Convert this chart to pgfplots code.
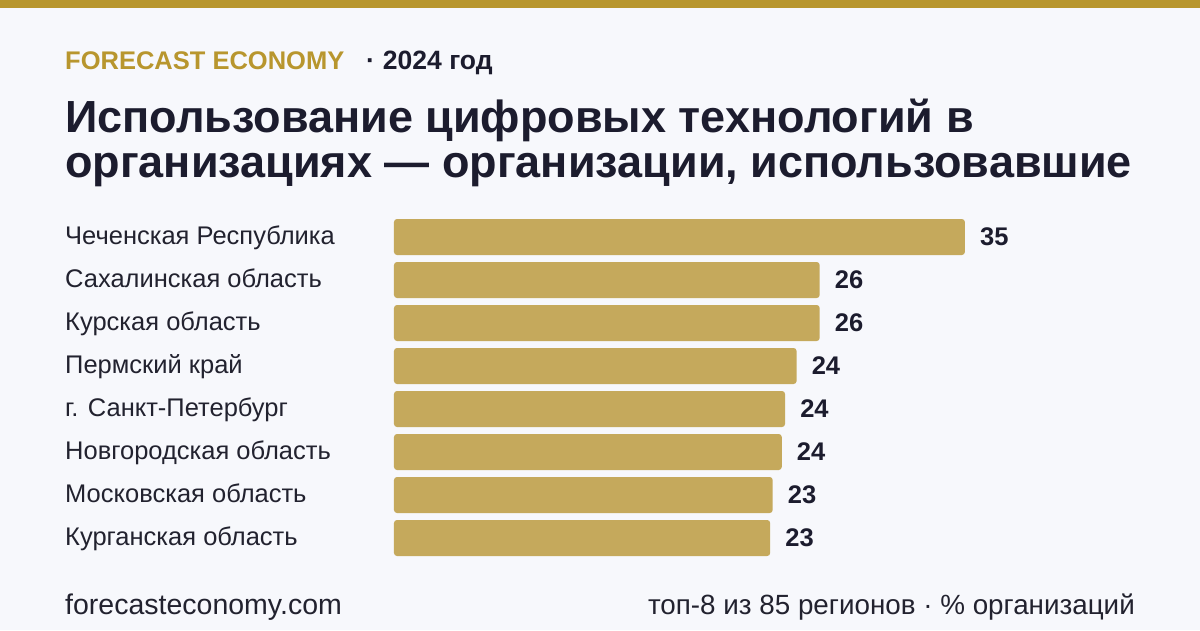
\documentclass[border=0pt]{standalone}
\usepackage{fontspec}
\setmainfont{Liberation Sans}
\usepackage{pgfplots}
\pgfplotsset{compat=1.18}
\usepackage{pgfplotstable}
\definecolor{bg}{HTML}{F7F8FC}
\definecolor{gold}{HTML}{B8962E}
\definecolor{barc}{HTML}{C5A95C}
\definecolor{ink}{HTML}{1C1C2E}
\definecolor{lab}{HTML}{22222F}

\pgfplotstableread{
y val lab
0 34.6 35
1 25.8 26
2 25.8 26
3 24.4 24
4 23.7 24
5 23.5 24
6 22.95 23
7 22.8 23
}\data

\begin{document}
\begin{tikzpicture}
\fill[bg] (0pt,0pt) rectangle (1200pt,630pt);
\fill[gold] (0pt,622pt) rectangle (1200pt,630pt);
\node[anchor=base west, inner sep=0, text=gold, font=\bfseries\fontsize{25.5}{28}\selectfont] at (65pt,560.5pt) {FORECAST ECONOMY};
\node[anchor=base west, inner sep=0, text=ink, font=\bfseries\fontsize{26.5}{28}\selectfont] at (366pt,560.5pt) {·\hspace{0.3em}2024 год};
\node[anchor=base west, inner sep=0, text=ink, font=\bfseries\fontsize{45}{50}\selectfont] at (65pt,497pt) {Использование цифровых технологий в};
\node[anchor=base west, inner sep=0, text=ink, font=\bfseries\fontsize{45}{50}\selectfont] at (65pt,452pt) {организациях — организации, использовавшие};
\node[anchor=base west, inner sep=0, text=lab, font=\fontsize{28.5}{32}\selectfont] at (65pt,16pt) {forecasteconomy.com};
\node[anchor=base east, inner sep=0, text=lab, font=\fontsize{27.8}{32}\selectfont] at (1135pt,16pt) {топ-8 из 85 регионов · \% организаций};
\begin{axis}[
  at={(394pt,70.5pt)}, anchor=south west,
  scale only axis, width=660pt, height=344pt,
  xmin=0, xmax=40, ymin=-0.5, ymax=7.5, y dir=reverse,
  xbar, bar width=36pt,
  axis line style={draw=none}, major tick length=0pt,
  xtick=\empty,
  ytick={0,...,7},
  yticklabels={Чеченская Республика, Сахалинская область, Курская область, Пермский край, г. Санкт-Петербург, Новгородская область, Московская область, Курганская область},
  yticklabel style={anchor=base west, inner sep=0pt, xshift=-329pt, yshift=-7.5pt, text=lab, font=\fontsize{25.5}{28}\selectfont},
  point meta=explicit symbolic,
  nodes near coords,
  every node near coord/.append style={anchor=base west, inner sep=0pt, xshift=15pt, yshift=-8pt, text=ink, font=\bfseries\fontsize{25.5}{28}\selectfont},
  clip=false,
]
\addplot[fill=barc, draw=none, rounded corners=3pt] table[x=val, y=y, meta=lab] {\data};
\end{axis}
\end{tikzpicture}
\end{document}
